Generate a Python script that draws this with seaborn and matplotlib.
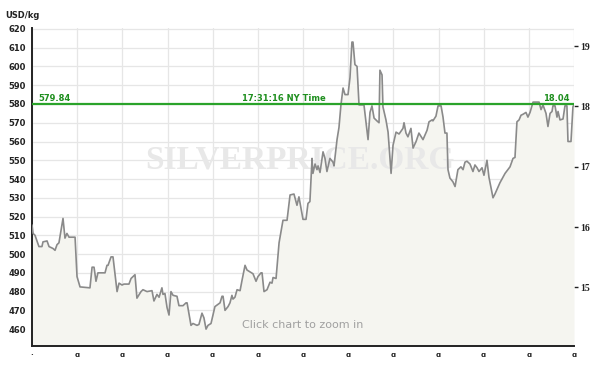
import matplotlib
matplotlib.use("Agg")
import matplotlib.pyplot as plt
import seaborn as sns
import pandas as pd
import numpy as np

# ---- data ----
day = [0, 0.7, 2.0, 4.6, 6.6, 7.3, 10.0, 11.3, 13.9, 15.3, 16.6, 17.9, 20.6, 21.9, 23.2, 24.6,
       28.6, 29.9, 31.9, 38.5, 39.9, 41.2, 42.5, 43.8, 48.5, 49.8, 50.5, 52.5, 53.8, 56.5, 57.8,
       59.8, 61.1, 64.4, 65.8, 68.4, 69.7, 72.4, 73.7, 76.4, 79.7, 81.0, 83.0, 84.4, 86.3, 87.0,
       88.3, 89.7, 91.0, 92.3, 93.7, 96.3, 97.6, 100.3, 102.3, 103.0, 105.6, 106.9, 109.6, 110.9,
       112.9, 114.2, 115.6, 116.9, 118.9, 120.2, 121.5, 124.9, 126.2, 126.9, 128.2, 130.2, 131.5,
       132.8, 133.5, 134.8, 136.2, 138.2, 139.5, 141.5, 142.8, 144.8, 146.8, 148.8, 150.1, 152.1,
       152.8, 154.1, 156.1, 158.1, 159.4, 160.1, 162.1, 164.1, 166.7, 169.4, 171.4, 174.0, 176.0,
       177.3, 180.0, 182.0, 183.3, 184.6, 186.0, 186.6, 188.0, 189.3, 190.0, 191.3, 193.3, 194.6,
       195.9, 197.9, 199.9, 200.6, 202.6, 203.9, 205.2, 206.6, 207.9, 209.9, 211.2, 212.5, 213.2,
       214.5, 215.9, 217.2, 220.5, 223.2, 224.5, 225.8, 227.2, 229.1, 230.5, 231.1, 232.5, 233.1,
       235.1, 236.5, 238.5, 239.8, 241.8, 243.8, 246.4, 247.1, 248.4, 249.7, 251.7, 253.1, 255.1,
       257.0, 259.7, 262.4, 263.7, 265.7, 266.3, 268.3, 269.7, 271.7, 273.0, 274.3, 275.6, 276.3,
       277.6, 279.6, 281.0, 282.9, 284.9, 286.3, 287.6, 288.9, 290.9, 292.9, 294.2, 295.6, 296.9,
       298.9, 300.2, 302.2, 303.5, 306.2, 307.5, 310.8, 314.2, 317.5, 319.5, 320.8, 322.1, 323.5,
       324.8, 326.1, 328.1, 329.4, 330.8, 332.8, 336.8, 338.1, 339.4, 341.4, 342.7, 344.1, 345.4,
       346.0, 347.4, 348.7, 349.4, 350.7, 352.7, 354.0, 355.3, 356.0, 358.0, 359.3, 360.0]
price = [515.5, 511, 510, 504, 504, 506.5, 507, 504, 503, 502, 505, 506, 519, 508.5, 511, 509,
         509, 488, 482.5, 482, 493, 493, 485.5, 490, 490, 494, 494, 498.5, 498.5, 480, 484.5,
         483.5, 484, 484, 487, 489, 476.5, 480, 481, 480, 480.5, 475, 478.5, 477, 482, 478.5,
         479, 471.5, 467.5, 480, 478, 477.5, 472.5, 472.5, 474, 474, 462, 463, 462, 462.5,
         468.5, 466, 460, 462, 463, 467.5, 472, 474, 477.5, 477.5, 470, 472, 474,
         478, 476, 477, 481, 480.5, 486, 494, 491.5, 490.5, 489.5, 485.5, 488, 490,
         490, 480, 481, 485, 484.5, 487.5, 487, 506, 518, 518, 531.5, 532, 526,
         530.5, 518.5, 518.5, 527, 528, 551, 543, 548, 545, 547, 543.5, 554.5, 551,
         544, 551, 549, 547, 561, 567.5, 579.5, 588.5, 585, 585, 594, 613, 613,
         601, 600, 579.5, 579.5, 561, 575.5, 579, 572.5, 571, 570, 598, 595.5, 578.5,
         571.5, 565, 543, 558, 565, 564, 567, 570, 564.5, 562.5, 567, 556.5, 560,
         564.5, 561, 566, 570.5, 571.5, 571, 573.5, 579, 579, 573, 564.5, 564.5, 545,
         540.5, 538.5, 536, 545, 546.5, 545, 549, 549.5, 548, 544, 547.5, 546, 544,
         546, 542, 550, 541, 530, 532, 538, 543, 546.5, 551, 551.5, 570.5, 571.5,
         574, 574.5, 575.5, 573, 575.5, 581, 581, 577, 579.5, 575, 568, 575, 576,
         579, 579, 573, 576, 571.5, 572, 579, 579, 560, 560, 578.5, 579.8]

left_ticks = [460, 470, 480, 490, 500, 510, 520, 530, 540, 550, 560, 570, 580, 590, 600, 610, 620]
right_ticks = [15, 16, 17, 18, 19]
x_ticks = [0, 30, 60, 90, 120, 150, 180, 210, 240, 270, 300, 330, 360]
x_labels = ["·", "ɑ", "ɑ", "ɑ", "ɑ", "ɑ", "ɑ", "ɑ", "ɑ", "ɑ", "ɑ", "ɑ", "ɑ"]
current_kg = 579.84
current_oz = "18.04"
time_label = "17:31:16 NY Time"
GRAMS_OZ = 32.1507

df = pd.DataFrame({"day": day, "price": price})

sns.set_style("white")
plt.rcParams["font.family"] = ["DejaVu Sans"]

fig = plt.figure(figsize=(6.0, 3.7), dpi=100)
ax = fig.add_axes([32/600, 1-346/370, (574-32)/600, (346-28)/370])

ymin, ymax = 451, 620.5
ax.set_ylim(ymin, ymax)
ax.set_xlim(0, 360)

ax.fill_between(df["day"], ymin, df["price"], color="#f5f5f0", lw=0, zorder=1)
sns.lineplot(data=df, x="day", y="price", ax=ax, color="#8a8a8a", lw=1.2, zorder=3)

# grid
for v in left_ticks:
    ax.axhline(v, color="#e6e6e6", lw=0.9, zorder=0.5)
for v in x_ticks:
    ax.axvline(v, color="#e6e6e6", lw=0.9, zorder=0.5)

# current price line
ax.axhline(current_kg, color="#2aa32a", lw=1.6, zorder=4)
tkw = dict(color="#1f8f1f", fontsize=6, fontweight="bold", va="bottom", zorder=5)
ax.text(4, current_kg + 0.8, f"{current_kg:.2f}", ha="left", **tkw)
ax.text(167, current_kg + 0.8, time_label, ha="center", **tkw)
ax.text(357, current_kg + 0.8, current_oz, ha="right", **tkw)

# watermark + hint
ax.text(0.495, 0.585, "SILVERPRICE.ORG", transform=ax.transAxes, ha="center", va="center",
        fontsize=24, family="Liberation Serif", fontweight="bold", color="#e8e8e8", zorder=2)
ax.text(0.5, 0.065, "Click chart to zoom in", transform=ax.transAxes, ha="center",
        va="center", fontsize=8, color="#a0a0a0", zorder=5)

ax.set_xlabel("")
ax.set_ylabel("")
ax.set_yticks(left_ticks)
ax.set_yticklabels([str(t) for t in left_ticks], fontsize=6, fontweight="bold", color="#222")
ax.set_xticks(x_ticks)
ax.set_xticklabels(x_labels, fontsize=5, fontweight="bold", color="#222")
ax.tick_params(axis="y", direction="out", length=3, width=1, pad=1.5, colors="#222")
ax.tick_params(axis="x", direction="inout", length=5, width=1.2, pad=2, colors="#222")
for s in ["top", "right"]:
    ax.spines[s].set_visible(False)
for s in ["left", "bottom"]:
    ax.spines[s].set_color("#222")
    ax.spines[s].set_linewidth(1.4)

sec = ax.secondary_yaxis("right", functions=(lambda v: v / GRAMS_OZ, lambda v: v * GRAMS_OZ))
sec.set_yticks(right_ticks)
sec.set_yticklabels([str(t) for t in right_ticks], fontsize=7, fontweight="bold",
                    family="Liberation Serif", color="#222")
sec.tick_params(direction="out", length=3, width=1, pad=1.5, colors="#222")
sec.spines["right"].set_visible(False)

fig.text(5/600, 1-15/370, "USD/kg", fontsize=6, fontweight="bold", color="#222", va="center")

fig.savefig("out.png", dpi=100)
